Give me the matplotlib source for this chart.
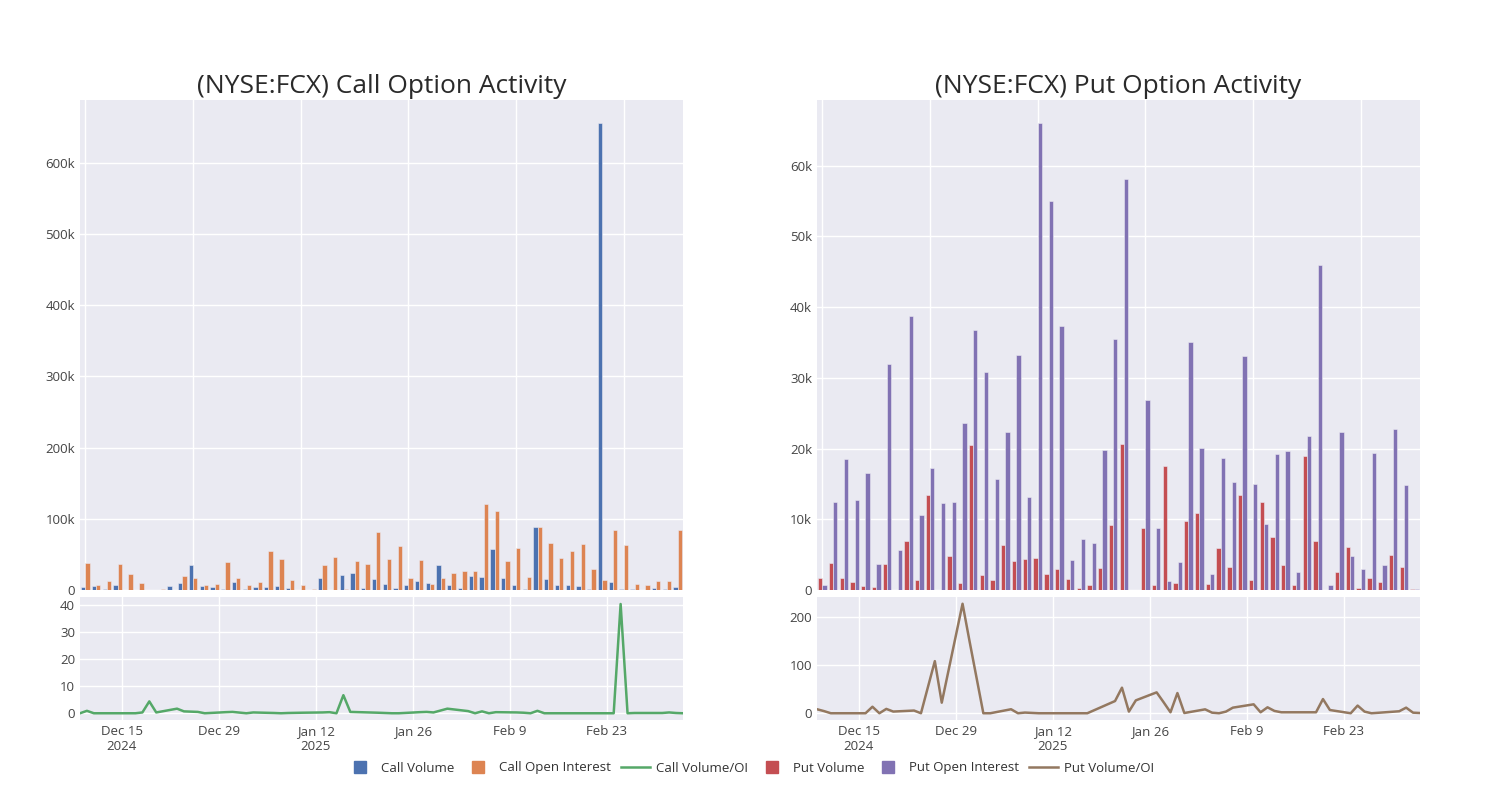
import matplotlib.pyplot as plt
from matplotlib.lines import Line2D
import numpy as np
import pandas as pd

plt.rcParams['font.family'] = ['Open Sans', 'DejaVu Sans']

# bar data (one group per row, in thousands of contracts)
call_volume = [3.8, 6, 1.4, 7, 0.5, 0.5, 0.1, 0.3, 6, 9.4, 35, 6, 4.7, 1, 10.8, 1, 4.7, 4.7, 5.6, 2.8,
               0.3, 0.2, 17, 0.5, 20.7, 23.5, 2.3, 15, 8.5, 2.3, 7, 12.2, 9.9, 34.7, 7.5, 2.8, 19.7, 17.8,
               58, 17, 6.6, 1, 89, 15, 6.6, 7.5, 5.2, 1.4, 655, 11.3, 1.9, 1.4, 0.5, 2.8, 1.4, 4.7]
call_oi = [37.6, 6.6, 12.7, 37, 22, 9.4, 0.3, 1, 0.5, 20, 16.4, 7, 8, 40, 17.4, 7, 10.8, 54.5, 43.7, 14.6,
           6.6, 0.8, 35.7, 46, 1.9, 40.4, 36, 82, 43.7, 61.5, 16.4, 42, 8.5, 17, 24, 26.3, 27.2, 120.7,
           111, 40.4, 59, 18.3, 89, 65.7, 44.6, 55, 64, 29, 14.6, 84, 63, 8.5, 7.5, 12.2, 12.7, 83.6]
put_volume = [1.65, 3.8, 1.75, 1.1, 0.5, 0.4, 3.7, 0.05, 7, 1.4, 13.4, 0.05, 4.8, 0.95, 20.5, 2.1, 1.4,
              6.4, 4.1, 4.4, 4.5, 2.2, 3, 1.6, 0.3, 0.7, 3.1, 9.2, 20.6, 0.05, 8.7, 0.7, 17.6, 1, 9.8,
              10.9, 0.85, 5.9, 3.2, 13.5, 1.4, 12.4, 7.5, 3.6, 0.75, 18.9, 6.9, 0.05, 2.6, 6.1, 0.25,
              1.65, 1.2, 4.9, 3.2, 0.1]
put_oi = [0.7, 12.5, 18.5, 12.7, 16.5, 3.7, 31.9, 5.7, 38.8, 10.6, 17.2, 12.3, 12.4, 23.6, 36.8, 30.8,
          15.7, 22.3, 33.3, 13.1, 66, 55, 37.4, 4.3, 7.2, 6.7, 19.8, 35.5, 58.1, 0.05, 26.9, 8.7, 1.3,
          3.9, 35.1, 20.1, 2.2, 18.6, 15.3, 33.1, 15, 9.4, 19.2, 19.6, 2.55, 21.8, 46, 0.7, 22.3, 4.8,
          2.9, 19.4, 3.5, 22.8, 14.8, 0.1]

# volume / open interest ratio per trading day
holidays = ['2024-12-25', '2025-01-01', '2025-01-09', '2025-01-20', '2025-02-17']
trade_days = pd.bdate_range('2024-12-09', '2025-03-06', freq='C', holidays=holidays)
call_ratio = [0, 0.9, 0, 0, 0, 0, 0, 0.3, 4.4, 0.3, 1.7, 0.7, 0.5, 0, 0.4, 0.5,
              0, 0.3, 0.1, 0, 0.1, 0.2, 0.3, 0.4, 0, 6.7, 0.5, 0.2, 0.1, 0, 0, 0.4, 0.5, 0.3, 1.0, 1.7,
              0.8, 0, 0.7, 0, 0.4, 0.3, 0.2, 0, 0.9, 0, 0, 0, 0, 0, 0, 40.5, 0, 0.1, 0.1,
              0.1, 0.3, 0.1, 0]
put_ratio = [8.3, 4.5, 0, 0, 0, 0, 13.5, 0, 9, 3.5, 5.6, 0, 108, 21.9, 227, 150,
             0, 0, 8.3, 0, 1.4, 0, 0, 0, 0, 0, 0, 25.3, 53, 3.4, 26.7, 43.3, 23, 2, 41.9, 0.5,
             8.1, 1.2, 0, 3.4, 11.6, 18.5, 2, 12.3, 4.8, 2, 2, 2, 29.4, 6.7, 0, 15.9, 3.4, 0, 1,
             4.1, 11.6, 1.2, 0.5]

date_ticks = pd.to_datetime(['2024-12-15', '2024-12-29', '2025-01-12', '2025-01-26', '2025-02-09', '2025-02-23'])
date_labels = ['Dec 15\n2024', 'Dec 29', 'Jan 12\n2025', 'Jan 26', 'Feb 9', 'Feb 23']

colors = {'cv': '#4C72B0', 'coi': '#DD8452', 'cr': '#55A868',
          'pv': '#C44E52', 'poi': '#8172B3', 'pr': '#937860'}
BG = '#EAEAF2'


def style(ax):
    ax.set_facecolor(BG)
    for s in ax.spines.values():
        s.set_visible(False)
    ax.grid(True, color='white', linewidth=1)
    ax.set_axisbelow(True)
    ax.tick_params(length=0, labelsize=9.5, labelcolor='#444444')


def k_fmt(v, _):
    return '0' if v == 0 else f'{int(round(v / 1000))}k'


fig = plt.figure(figsize=(15, 8), dpi=100)

panels = [
    (80, call_volume, call_oi, call_ratio, 'cv', 'coi', 'cr', 100000, (-2.5, 43.1), [0, 10, 20, 30, 40],
     '(NYSE:FCX) Call Option Activity'),
    (817, put_volume, put_oi, put_ratio, 'pv', 'poi', 'pr', 10000, (-14, 241), [0, 100, 200],
     '(NYSE:FCX) Put Option Activity'),
]

for left, vol, oi, ratio, cv, co, cr, ystep, rlim, rticks, title in panels:
    ax = fig.add_axes([left / 1500, 210 / 800, 603 / 1500, 490 / 800])
    style(ax)
    x = np.arange(len(vol))
    v = np.array(vol) * 1000
    o = np.array(oi) * 1000
    ax.bar(x - 0.2, v, width=0.4, color=colors[cv], edgecolor=BG, linewidth=0.4)
    ax.bar(x + 0.2, o, width=0.4, color=colors[co], edgecolor=BG, linewidth=0.4)
    ax.set_xlim(-0.5, len(vol) - 0.5)
    top = max(v.max(), o.max()) * 1.05
    ax.set_ylim(0, top)
    ax.set_xticks(np.arange(0, len(vol), 10))
    ax.set_xticklabels([])
    ax.set_yticks(np.arange(0, top, ystep))
    ax.yaxis.set_major_formatter(plt.FuncFormatter(k_fmt))
    ax.set_title(title, fontsize=19, color='#2a2a2a', pad=5)

    lx = fig.add_axes([left / 1500, 80 / 800, 603 / 1500, 123 / 800])
    style(lx)
    lx.plot(trade_days, ratio, color=colors[cr], linewidth=1.8)
    lx.set_xlim(trade_days[0], trade_days[-1])
    lx.set_ylim(*rlim)
    lx.set_yticks(rticks)
    lx.set_xticks(date_ticks)
    lx.set_xticklabels(date_labels, fontsize=9.5)

handles = [
    Line2D([], [], marker='s', linestyle='none', markersize=9, color=colors['cv']),
    Line2D([], [], marker='s', linestyle='none', markersize=9, color=colors['coi']),
    Line2D([], [], color=colors['cr'], linewidth=1.8),
    Line2D([], [], marker='s', linestyle='none', markersize=9, color=colors['pv']),
    Line2D([], [], marker='s', linestyle='none', markersize=9, color=colors['poi']),
    Line2D([], [], color=colors['pr'], linewidth=1.8),
]
labels = ['Call Volume', 'Call Open Interest', 'Call Volume/OI', 'Put Volume', 'Put Open Interest', 'Put Volume/OI']
fig.legend(handles, labels, loc='center', bbox_to_anchor=(0.5, 1 - 768 / 800), ncol=6, frameon=False,
           fontsize=9.5, handlelength=2.2, handletextpad=0.5, columnspacing=0.7, labelcolor='#333333')

fig.savefig('out.png', dpi=100)
